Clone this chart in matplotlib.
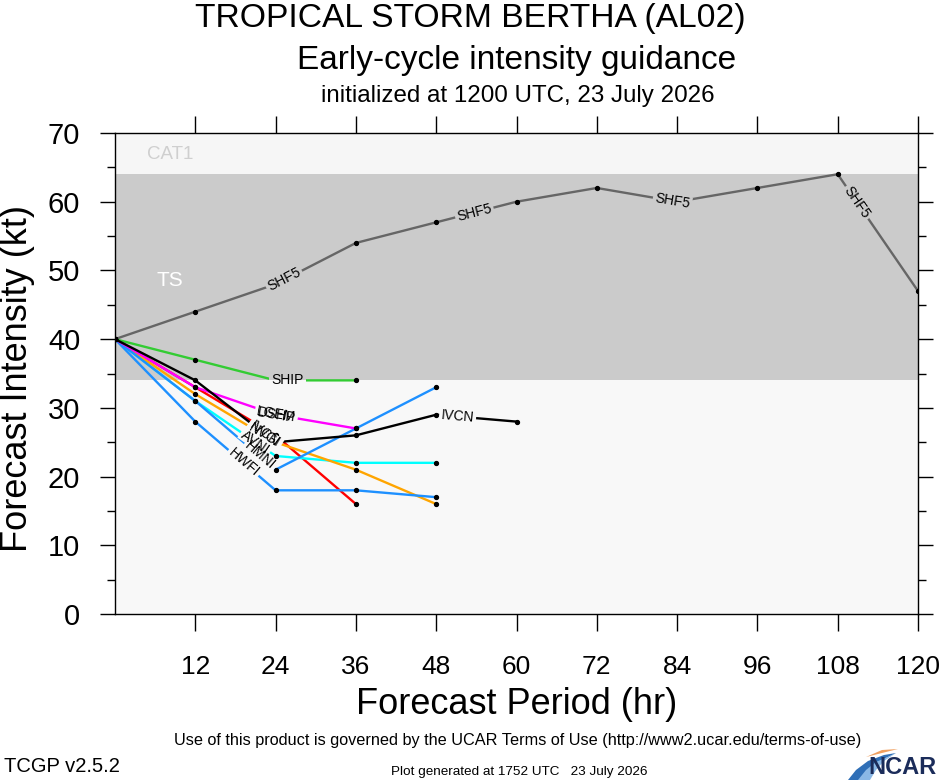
import numpy as np
import matplotlib
matplotlib.use("Agg")
import matplotlib.pyplot as plt
from matplotlib import font_manager as fm
from matplotlib.patches import Polygon, Rectangle
from matplotlib.transforms import IdentityTransform
from matplotlib.font_manager import FontProperties

# ---------------- data ----------------
hours_shf5 = [0, 12, 24, 36, 48, 60, 72, 84, 96, 108, 120]
shf5 = [40, 44, 48, 54, 57, 60, 62, 60, 62, 64, 47]
hours_ship = [0, 12, 24, 36]
ship = [40, 37, 34, 34]
hours_dshp = [0, 12, 24, 36]
dshp = [40, 33, 29, 27]
hours_lgem = [0, 12, 24, 36]
lgem = [40, 33, 26, 16]
hours_nvgi = [0, 12, 24, 36, 48]
nvgi = [40, 32, 25, 21, 16]
hours_ivcn = [0, 12, 24, 36, 48, 60]
ivcn = [40, 34, 25, 26, 29, 28]
hours_avni = [0, 12, 24, 36, 48]
avni = [40, 31, 23, 22, 22]
hours_hmni = [0, 12, 24, 36, 48]
hmni = [40, 31, 21, 27, 33]
hours_hwfi = [0, 12, 24, 36, 48]
hwfi = [40, 28, 18, 18, 17]

x_ticks = [12, 24, 36, 48, 60, 72, 84, 96, 108, 120]
y_ticks = [0, 10, 20, 30, 40, 50, 60, 70]
ts_band = (34, 64)

names = {f.name for f in fm.fontManager.ttflist}
FONT = "Liberation Sans" if "Liberation Sans" in names else "DejaVu Sans"
NARROW = "Liberation Sans Narrow" if "Liberation Sans Narrow" in names else FONT
plt.rcParams["font.family"] = [FONT, "DejaVu Sans"]

W, H = 940.0, 780.0
fig = plt.figure(figsize=(9.4, 7.8), dpi=100)
fig.patch.set_facecolor("white")
AX_L, AX_R, AX_T, AX_B = 115, 918, 133, 614
ax = fig.add_axes([AX_L / W, 1 - AX_B / H, (AX_R - AX_L) / W, (AX_B - AX_T) / H])
ax.set_xlim(0, 120)
ax.set_ylim(0, 70)
ax.set_facecolor("white")

# intensity bands (ymin, ymax, colour)
bands = [(0, ts_band[0], "#f8f8f8"), (ts_band[0], ts_band[1], "#cbcbcb"),
         (ts_band[1], 70, "#f6f6f6")]
for y0, y1, c in bands:
    ax.add_patch(Rectangle((0, y0), 120, y1 - y0, fc=c, ec="none", zorder=0))
ax.text(8.2, 66.8, "CAT1", color="#cfcfcf", fontsize=13.5, va="center", ha="center")
ax.text(8.2, 48.6, "TS", color="white", fontsize=15, va="center", ha="center")

series = [
    ("SHF5", hours_shf5, shf5, "#666666", [25.3, 53.7, 83.3, 110.9]),
    ("LGEM", hours_lgem, lgem, "#ff0000", []),
    ("AVNI", hours_avni, avni, "#00ffff", [21.0]),
    ("NVGI", hours_nvgi, nvgi, "#ffa500", [22.4]),
    ("HMNI", hours_hmni, hmni, "#1e90ff", [21.6]),
    ("HWFI", hours_hwfi, hwfi, "#1e90ff", [19.2]),
    ("DSHP", hours_dshp, dshp, "#ff00ff", [24.1]),
    ("SHIP", hours_ship, ship, "#33cc33", [25.8]),
    ("IVCN", hours_ivcn, ivcn, "#000000", [22.3, 51.2]),
]

for i, (name, hh, vv, col, labs) in enumerate(series):
    ax.plot(hh, vv, color=col, lw=1.7, zorder=2 + i * 0.01,
            solid_capstyle="round", solid_joinstyle="round")
for name, hh, vv, col, labs in series:
    ax.plot(hh, vv, ls="none", marker="o", ms=2.8, color="black", zorder=3)

# LGEM label sits over the DSHP label in the guidance plot
extra_labels = [("LGEM", 24.1, hours_dshp, dshp)]

def seg_angle(hh, vv, h):
    hh = np.asarray(hh, float)
    k = int(np.clip(np.searchsorted(hh, h) - 1, 0, len(hh) - 2))
    p1 = ax.transData.transform((hh[k], vv[k]))
    p2 = ax.transData.transform((hh[k + 1], vv[k + 1]))
    return np.degrees(np.arctan2(p2[1] - p1[1], p2[0] - p1[0]))

label_items = []
for name, hh, vv, col, labs in series:
    for h in labs:
        label_items.append((name, h, float(np.interp(h, hh, vv)), seg_angle(hh, vv, h)))
for name, h, hh, vv in extra_labels:
    label_items.append((name, h, float(np.interp(h, hh, vv)), seg_angle(hh, vv, h)))

LFS = 10
fig.canvas.draw()
renderer = fig.canvas.get_renderer()
fp_lab = FontProperties(family=[FONT, "DejaVu Sans"], size=LFS)
for name, h, y, ang in label_items:
    w, hgt, d = renderer.get_text_width_height_descent(name, fp_lab, ismath=False)
    w += 4
    hgt += 3
    cx, cy = ax.transData.transform((h, y))
    a = np.radians(ang)
    ux, uy = np.cos(a), np.sin(a)
    vx, vy = -uy, ux
    corners = [(cx + sx * w / 2 * ux + sy * hgt / 2 * vx,
                cy + sx * w / 2 * uy + sy * hgt / 2 * vy)
               for sx, sy in [(-1, -1), (1, -1), (1, 1), (-1, 1)]]
    clip = Polygon(corners, closed=True, transform=IdentityTransform())
    for y0, y1, c in bands:
        r = Rectangle((0, y0), 120, y1 - y0, fc=c, ec="none", zorder=4)
        ax.add_patch(r)
        r.set_clip_path(clip)
for name, h, y, ang in label_items:
    ax.text(h, y, name, fontsize=LFS, color="black", ha="center", va="center",
            rotation=ang, rotation_mode="anchor", zorder=5)

# axes styling
ax.set_xticks(x_ticks)
ax.set_xticklabels([str(t) for t in x_ticks])
ax.set_yticks(y_ticks)
ax.set_yticks(np.arange(5, 70, 10), minor=True)
ax.tick_params(axis="x", which="major", direction="out", length=12, width=1,
               top=True, bottom=True, labelsize=19, pad=17.5)
ax.tick_params(axis="y", which="major", direction="out", length=11, width=1,
               left=True, right=True, labelsize=21, pad=14)
ax.tick_params(axis="y", which="minor", direction="out", length=6, width=1,
               left=True, right=True)
for s in ax.spines.values():
    s.set_linewidth(1.0)
    s.set_zorder(6)

ax.set_xlabel("Forecast Period (hr)", fontsize=26, va="center", ha="center")
ax.xaxis.set_label_coords(0.5, -(705 - AX_B) / (AX_B - AX_T))
ax.set_ylabel("Forecast Intensity (kt)", fontsize=26, va="center", ha="center")
ax.yaxis.set_label_coords(-(AX_L - 18) / (AX_R - AX_L), (AX_B - 378) / (AX_B - AX_T))

# titles
fig.text(470 / W, 1 - 18 / H, "TROPICAL STORM BERTHA (AL02)", fontsize=24.2,
         ha="center", va="center")
fig.text(517 / W, 1 - 60 / H, "Early-cycle intensity guidance", fontsize=24,
         ha="center", va="center")
fig.text(518 / W, 1 - 96 / H, "initialized at 1200 UTC, 23 July 2026", fontsize=17.4,
         ha="center", va="center")

# footer
fig.text(518 / W, 1 - 741 / H,
         "Use of this product is governed by the UCAR Terms of Use (http://www2.ucar.edu/terms-of-use)",
         fontsize=11.7, ha="center", va="center", family=[NARROW, "DejaVu Sans"])
fig.text(4 / W, 1 - 766 / H, "TCGP v2.5.2", fontsize=14.5, ha="left", va="center",
         family=[NARROW, "DejaVu Sans"])
fig.text(519 / W, 1 - 772 / H, "Plot generated at 1752 UTC   23 July 2026",
         fontsize=9.7, ha="center", va="center", family=[NARROW, "DejaVu Sans"])

# NCAR logo
def fpt(pts):
    return [(x / W, 1 - y / H) for x, y in pts]
fig.add_artist(Polygon(fpt([(848, 780), (856, 770), (868, 761), (884, 755), (896, 753),
                            (886, 758), (876, 766), (868, 780)]),
                       closed=True, transform=fig.transFigure, fc="#2f6fb7", ec="none"))
fig.add_artist(Polygon(fpt([(858, 780), (866, 770), (876, 762), (890, 756), (896, 753),
                            (884, 761), (876, 770), (870, 780)]),
                       closed=True, transform=fig.transFigure, fc="#8ab8e6", ec="none"))
fig.add_artist(Polygon(fpt([(866, 757), (882, 750), (898, 749), (882, 753)]),
                       closed=True, transform=fig.transFigure, fc="#f0a060", ec="none"))
fig.text(937 / W, 1 - 768 / H, "NCAR", fontsize=17, fontweight="bold",
         color="#1b2c5a", ha="right", va="center", family=[NARROW, "DejaVu Sans"])

fig.savefig("out.png", dpi=100)
